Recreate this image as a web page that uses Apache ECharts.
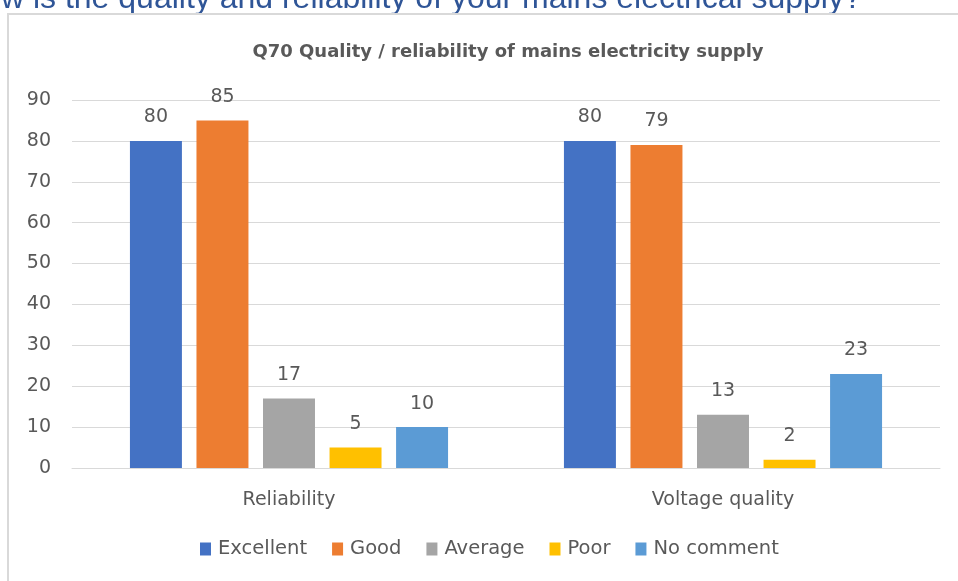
<!DOCTYPE html>
<html>
<head>
<meta charset="utf-8">
<script src="https://cdn.jsdelivr.net/npm/echarts@6/dist/echarts.min.js"></script>
<style>
  html, body { margin: 0; padding: 0; background: #ffffff; }
  #chart { width: 958px; height: 581px; }
</style>
</head>
<body>
<div id="chart"></div>
<script>
// Survey responses, Q70
const categories = ['Reliability', 'Voltage quality'];
const excellent = [80, 80];
const good = [85, 79];
const average = [17, 13];
const poor = [5, 2];
const noComment = [10, 23];
const seriesNames = ['Excellent', 'Good', 'Average', 'Poor', 'No comment'];
const yTicks = [0, 10, 20, 30, 40, 50, 60, 70, 80, 90];

const palette = ['#4472C4', '#ED7D31', '#A5A5A5', '#FFC000', '#5B9BD5'];
const FONT = '"DejaVu Sans", sans-serif';
const HEAD_FONT = '"Liberation Sans", Arial, sans-serif';
const TEXT = '#595959';

const values = [excellent, good, average, poor, noComment];

const chart = echarts.init(document.getElementById('chart'), null, { renderer: 'canvas' });

chart.setOption({
  animation: false,
  backgroundColor: '#ffffff',
  color: palette,
  textStyle: { fontFamily: FONT },
  graphic: [
    {
      type: 'text',
      left: -40,
      top: -17,
      style: {
        text: 'How is the quality and reliability of your mains electrical supply?',
        fill: '#2F5597',
        font: '32px ' + HEAD_FONT
      },
      silent: true
    },
    {
      type: 'rect',
      shape: { x: 8, y: 14, width: 1200, height: 1200 },
      style: { fill: 'none', stroke: '#d9d9d9', lineWidth: 2 },
      silent: true
    }
  ],
  title: {
    text: 'Q70 Quality / reliability of mains electricity supply',
    left: 503,
    top: 38,
    textAlign: 'center',
    textStyle: { fontFamily: FONT, fontSize: 18, fontWeight: 'bold', color: TEXT }
  },
  legend: {
    data: seriesNames,
    bottom: 17,
    left: 195,
    itemWidth: 11,
    itemHeight: 13,
    itemGap: 25,
    icon: 'rect',
    textStyle: { fontFamily: FONT, fontSize: 19.5, color: TEXT, padding: [0, 0, 0, 2] }
  },
  grid: { left: 72, right: 18, top: 100, bottom: 113, containLabel: false },
  xAxis: {
    type: 'category',
    data: categories,
    axisLine: { lineStyle: { color: '#d9d9d9', width: 1 } },
    axisTick: { show: false },
    axisLabel: { fontFamily: FONT, fontSize: 19, color: TEXT, margin: 23 }
  },
  yAxis: {
    type: 'value',
    min: yTicks[0],
    max: yTicks[yTicks.length - 1],
    interval: 10,
    axisLine: { show: false },
    axisTick: { show: false },
    axisLabel: { fontFamily: FONT, fontSize: 19, color: TEXT, margin: 21 },
    splitLine: { lineStyle: { color: '#d9d9d9', width: 1 } }
  },
  series: seriesNames.map((name, i) => ({
    name: name,
    type: 'bar',
    data: values[i],
    barGap: '28%',
    barCategoryGap: '26.7%',
    itemStyle: { color: palette[i] },
    label: {
      show: true,
      position: 'top',
      distance: 14,
      fontFamily: FONT,
      fontSize: 19,
      color: TEXT
    }
  }))
});
</script>
</body>
</html>
